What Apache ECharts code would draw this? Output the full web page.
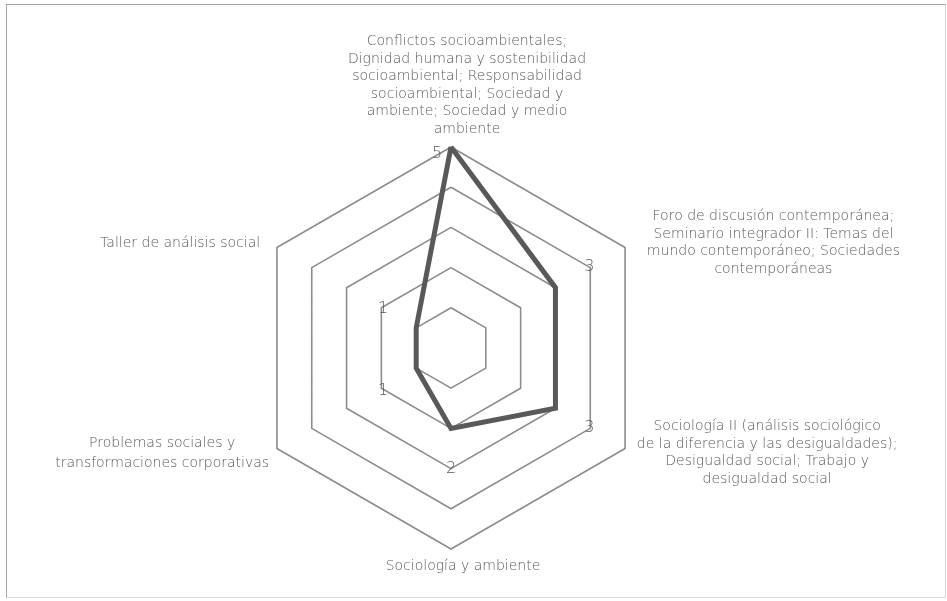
<!DOCTYPE html>
<html>
<head>
<meta charset="utf-8">
<script src="https://cdn.jsdelivr.net/npm/echarts@6/dist/echarts.min.js"></script>
<style>
  html, body { margin: 0; padding: 0; background: #fff; }
  #frame { position: absolute; left: 6px; top: 4px; width: 938px; height: 592px; border: 1px solid #a6a6a6; border-bottom-color: #d9d9d9; border-right-color: #d9d9d9; }
  #chart { position: absolute; left: 0; top: 0; width: 947px; height: 601px; }
</style>
</head>
<body>
<div id="frame"></div>
<div id="chart"></div>
<script>
// categories in the order echarts draws them (top, then counter-clockwise)
const categories = [
  'Conflictos socioambientales;\nDignidad humana y sostenibilidad\nsocioambiental; Responsabilidad\nsocioambiental; Sociedad y\nambiente; Sociedad y medio\nambiente',
  'Taller de análisis social',
  'Problemas sociales y\ntransformaciones corporativas',
  'Sociología y ambiente',
  'Sociología II (análisis sociológico\nde la diferencia y las desigualdades);\nDesigualdad social; Trabajo y\ndesigualdad social',
  'Foro de discusión contemporánea;\nSeminario integrador II: Temas del\nmundo contemporáneo; Sociedades\ncontemporáneas'
]
const scores = [5, 1, 1, 2, 3, 3]
const maxScore = 5

// style key for each name (where it sits round the chart)
const nameSide = ['top', 'upLeft', 'lowLeft', 'bottom', 'lowRight', 'upRight']
// label shift [dx, dy] for each value label
const labelShift = [[-14, 7], [-33, -19], [-33, 23], [0, 40], [34, 20], [34, -21]]

const textColor = '#595959'
const font = '"DejaVu Sans", sans-serif'

const nameRich = {
  top: { lineHeight: 17.5, padding: [0, 0, 0, 32] },
  upLeft: { lineHeight: 17.5, padding: [0, 9, 0, 0] },
  lowLeft: { lineHeight: 20, padding: [0, 0, 0, 0] },
  bottom: { lineHeight: 17.5, padding: [0, 0, 0, 24] },
  lowRight: { lineHeight: 17.5, padding: [0, 0, 0, 4] },
  upRight: { lineHeight: 17.5, padding: [0, 0, 0, 14] }
}
Object.keys(nameRich).forEach(k => {
  nameRich[k].align = 'center'
  nameRich[k].fontFamily = font
  nameRich[k].fontSize = 14
  nameRich[k].fontWeight = 200
  nameRich[k].color = textColor
})

const valueRich = {}
labelShift.forEach((s, i) => {
  const [dx, dy] = s
  valueRich['d' + i] = {
    fontFamily: font,
    fontSize: 16,
    fontWeight: 200,
    color: textColor,
    padding: [dy > 0 ? 2 * dy : 0, dx < 0 ? -2 * dx : 0, dy < 0 ? -2 * dy : 0, dx > 0 ? 2 * dx : 0]
  }
})

const chart = echarts.init(document.getElementById('chart'))

const options = {
  backgroundColor: 'transparent',
  animation: false,
  radar: {
    center: [451, 348],
    radius: 201,
    startAngle: 90,
    splitNumber: 5,
    shape: 'polygon',
    indicator: categories.map(c => ({ name: c, min: 0, max: maxScore })),
    axisName: {
      formatter: (name) => {
        const side = nameSide[categories.indexOf(name)]
        return name.split('\n').map(l => '{' + side + '|' + l + '}').join('\n')
      },
      rich: nameRich
    },
    nameGap: 9,
    axisLine: { show: false },
    axisTick: { show: false },
    axisLabel: { show: false },
    splitArea: { show: false },
    splitLine: {
      lineStyle: { color: '#8c8c8c', width: 1.6 }
    }
  },
  series: [{
    type: 'radar',
    symbol: 'circle',
    symbolSize: 0,
    lineStyle: { color: '#595959', width: 5, join: 'miter' },
    itemStyle: { color: '#595959' },
    label: {
      show: true,
      position: 'inside',
      formatter: (p) => '{d' + p.dimensionIndex + '|' + p.value + '}',
      rich: valueRich
    },
    data: [{ value: scores, name: 'Asignaturas' }]
  }]
}
chart.setOption(options)
</script>
</body>
</html>
